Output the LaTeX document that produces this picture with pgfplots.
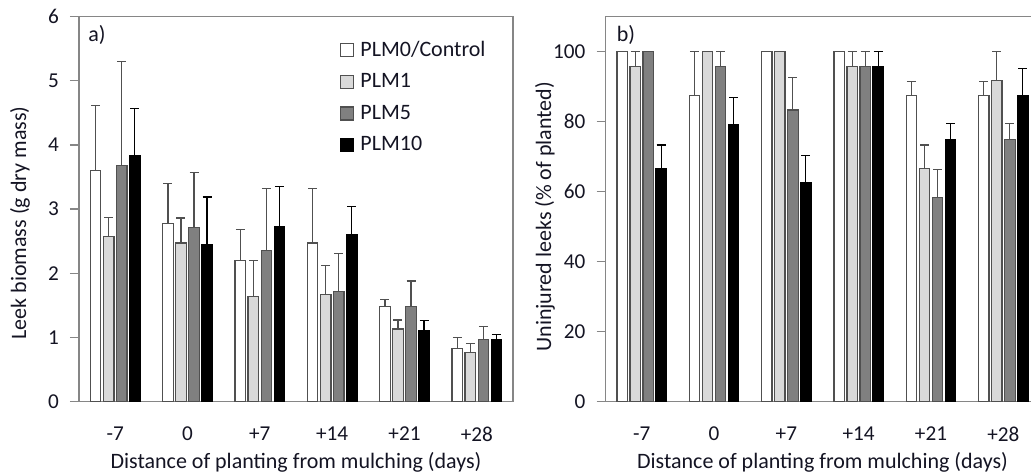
\documentclass[border=0pt]{standalone}
\usepackage{pgfplots}
\pgfplotsset{compat=1.18}
\usepackage{fontspec}
\setmainfont{Carlito}
\definecolor{axgray}{RGB}{134,134,134}
\definecolor{outl}{RGB}{80,80,80}
\definecolor{lgray}{RGB}{217,217,217}
\definecolor{dgray}{RGB}{128,128,128}
\definecolor{txt}{RGB}{20,20,35}

\pgfplotsset{
  panel/.style={
    width=217pt, height=192.4pt, scale only axis,
    xmin=-0.5, xmax=5.5,
    xtick={0,1,2,3,4,5},
    xticklabels={-7,0,+7,+14,+21,+28},
    major x tick style={draw=none},
    ytick pos=left,
    tick align=outside,
    major tick length=4.5pt,
    tick style={axgray, line width=0.6pt},
    axis line style={axgray, line width=0.6pt},
    /pgf/number format/assume math mode=true,
    tick label style={font=\fontsize{10.6}{12}\selectfont, text=txt},
    xticklabel style={yshift=-4.5pt},
    yticklabel style={xshift=-2pt},
    label style={font=\fontsize{11}{13}\selectfont, text=txt},
    xlabel style={at={(axis description cs:0.5,0)}, anchor=center, yshift=-30.5pt},
    ybar,
    legend image code/.code={\draw[#1, line width=0.6pt] (0pt,-3.25pt) rectangle (6.5pt,3.25pt);},
    error bars/y dir=plus,
    error bars/y explicit,
    error bars/error mark=-,
    error bars/error mark options={line width=0.6pt, mark size=2.25pt, rotate=90},
    error bars/error bar style={line width=0.6pt},
  },
  s0/.style={fill=white, draw=outl, line width=0.6pt, bar width=0.145, bar shift=-0.27,
    error bars/error bar style={line width=0.6pt, color=outl}, error bars/error mark options={line width=0.6pt, mark size=2.25pt, rotate=90, color=outl}},
  s1/.style={fill=lgray, draw=outl, line width=0.6pt, bar width=0.145, bar shift=-0.09,
    error bars/error bar style={line width=0.6pt, color=outl}, error bars/error mark options={line width=0.6pt, mark size=2.25pt, rotate=90, color=outl}},
  s2/.style={fill=dgray, draw=outl, line width=0.6pt, bar width=0.145, bar shift=0.09,
    error bars/error bar style={line width=0.6pt, color=outl}, error bars/error mark options={line width=0.6pt, mark size=2.25pt, rotate=90, color=outl}},
  s3/.style={fill=black, draw=black, line width=0.6pt, bar width=0.145, bar shift=0.27,
    error bars/error bar style={line width=0.6pt, color=black}, error bars/error mark options={line width=0.6pt, mark size=2.25pt, rotate=90, color=black}},
}

\begin{document}
\begin{tikzpicture}
\begin{axis}[panel, name=pa, at={(0pt,0pt)}, anchor=south west,
  ymin=0, ymax=6, ytick={0,1,2,3,4,5,6},
  xlabel={Distance of planting from mulching (days)},
  ylabel={Leek biomass (g dry mass)},
  ylabel style={at={(axis description cs:0,0.464)}, rotate=0, anchor=center, yshift=29.5pt},
  legend style={at={(axis description cs:0.601,1)}, anchor=north west, yshift=-10.5pt,
    draw=none, fill=none, inner sep=0pt, row sep=4.1pt, column sep=1.5pt,
    font=\fontsize{11}{13}\selectfont, text=txt,
    nodes={inner sep=1.5pt}},
  legend cell align=left,
]
\addplot[s0] table[x=x, y=y, y error=e] {
x y e
0 3.60 1.01
1 2.77 0.63
2 2.20 0.48
3 2.47 0.85
4 1.48 0.11
5 0.83 0.17
};
\addplot[s1] table[x=x, y=y, y error=e] {
x y e
0 2.57 0.30
1 2.47 0.39
2 1.64 0.56
3 1.67 0.45
4 1.13 0.14
5 0.76 0.14
};
\addplot[s2] table[x=x, y=y, y error=e] {
x y e
0 3.68 1.62
1 2.71 0.86
2 2.36 0.96
3 1.71 0.60
4 1.48 0.40
5 0.97 0.20
};
\addplot[s3] table[x=x, y=y, y error=e] {
x y e
0 3.83 0.74
1 2.44 0.75
2 2.73 0.62
3 2.60 0.44
4 1.10 0.16
5 0.97 0.08
};
\legend{PLM0/Control, PLM1, PLM5, PLM10}
\node[anchor=west, font=\fontsize{11}{13}\selectfont, text=txt, inner sep=0pt] at (rel axis cs:0,1) [xshift=4.5pt, yshift=-9pt] {a)};
\end{axis}

\begin{axis}[panel, name=pb, at={(263.25pt,0pt)}, anchor=south west,
  ymin=0, ymax=110, ytick={0,20,40,60,80,100},
  xlabel={Distance of planting from mulching (days)},
  ylabel={Uninjured leeks (\% of planted)},
  ylabel style={at={(axis description cs:0,0.48)}, rotate=0, anchor=center, yshift=30.25pt},
]
\addplot[s0] table[x=x, y=y, y error=e] {
x y e
0 100 0
1 87.5 12.5
2 100 0
3 100 0
4 87.5 4.0
5 87.5 4.0
};
\addplot[s1] table[x=x, y=y, y error=e] {
x y e
0 95.8 4.2
1 100 0
2 100 0
3 95.8 4.2
4 66.7 6.6
5 91.7 8.3
};
\addplot[s2] table[x=x, y=y, y error=e] {
x y e
0 100 0
1 95.8 4.2
2 83.3 9.4
3 95.8 4.2
4 58.3 8.1
5 75.0 4.5
};
\addplot[s3] table[x=x, y=y, y error=e] {
x y e
0 66.7 6.6
1 79.2 7.7
2 62.5 7.9
3 95.8 4.2
4 75.0 4.5
5 87.5 7.7
};
\node[anchor=west, font=\fontsize{11}{13}\selectfont, text=txt, inner sep=0pt] at (rel axis cs:0,1) [xshift=5.5pt, yshift=-9pt] {b)};
\end{axis}
\pgfresetboundingbox
\path[use as bounding box] (-39.5pt,-36.25pt) rectangle (476pt,200.75pt);
\end{tikzpicture}
\end{document}
